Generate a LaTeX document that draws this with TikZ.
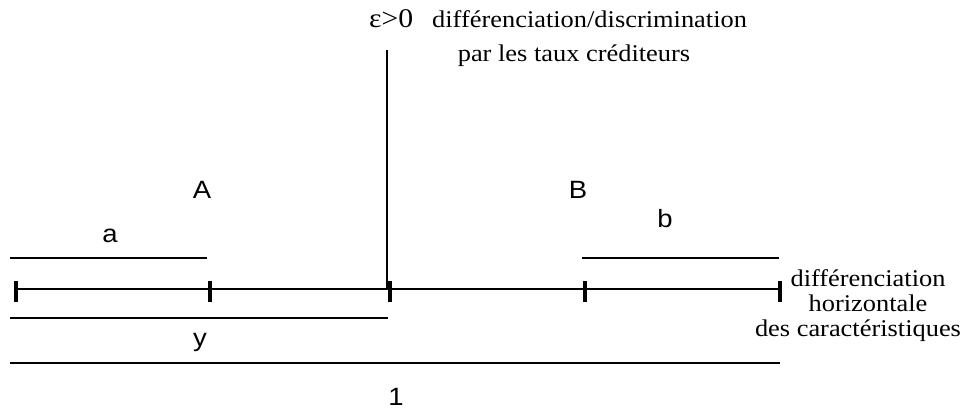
\documentclass[tikz,border=0pt]{standalone}
\usepackage{fontspec}
\setmainfont{Liberation Serif}[FakeStretch=1.1]
\newfontfamily\lblfont{Liberation Sans}[FakeStretch=1.1]
\begin{document}
\begin{tikzpicture}[x=1pt,y=-1pt,
  seg/.style={line width=2pt},
  tick/.style={line width=3.2pt},
  lbl/.style={inner sep=0pt,anchor=base,font=\lblfont\fontsize{25}{28}\selectfont},
  txt/.style={inner sep=0pt,font=\fontsize{24}{27}\selectfont}]
\useasboundingbox (0,0) rectangle (962,411);
% main axis
\draw[seg] (16,289) -- (780,289);
\foreach \x/\n in {16/t0,210/t1,390/t2,585/t3,780/t4}
  \draw[tick] (\x,281) -- (\x,302) coordinate (\n);
% vertical epsilon line
\draw[seg] (387,50) -- (387,289);
% segments
\draw[seg] (10,258) -- (207,258);
\draw[seg] (582,258) -- (779,258);
\draw[seg] (10,318) -- (388,318);
\draw[seg] (10,363) -- (780,363);
% labels
\node[lbl] (la) at (110,243) {a};
\node[lbl] (lA) at (202,199) {A};
\node[lbl] (lB) at (578,199) {B};
\node[lbl] (lb) at (665,228) {b};
\node[lbl] (ly) at (200,347) {y};
\node[lbl] (l1) at (396,406) {1};
% top texts
\node[inner sep=0pt,anchor=base west,font=\fontsize{27}{30}\selectfont] (eps) at (369,28) {ε>0};
\node[txt,anchor=base west] (t1) at (432,28) {différenciation/discrimination};
\node[txt,anchor=base] (t2) at (574,62) {par les taux créditeurs};
\node[txt,anchor=base] (r1) at (868,287) {différenciation};
\node[txt,anchor=base] (r2) at (868,312) {horizontale};
\node[txt,anchor=base] (r3) at (858,337) {des caractéristiques};
\end{tikzpicture}
\end{document}
